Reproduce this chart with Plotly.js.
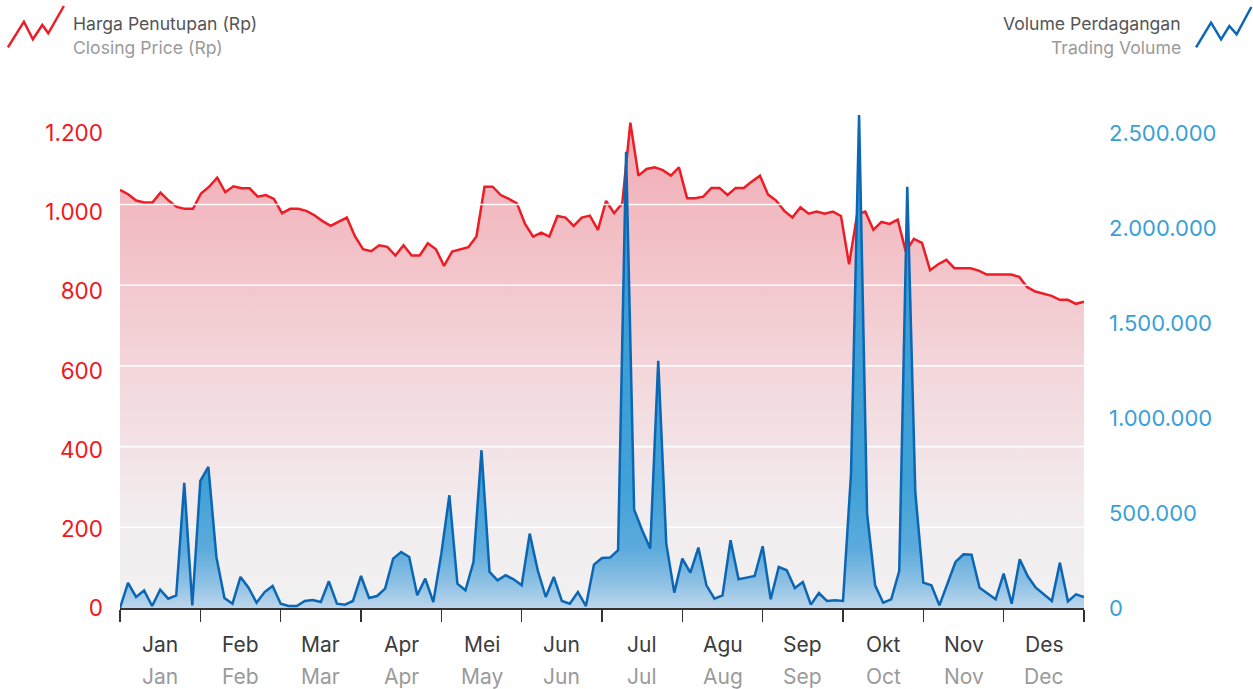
<!DOCTYPE html>
<html><head><meta charset="utf-8">
<script src="https://cdn.plot.ly/plotly-3.0.1.min.js"></script>
<style>html,body{margin:0;padding:0;background:#fff;} #chart{width:1253px;height:689px;}</style>
</head><body><div id="chart"></div>
<script>
// ---- data ----
const monthsId = ["Jan","Feb","Mar","Apr","Mei","Jun","Jul","Agu","Sep","Okt","Nov","Des"];
const monthsEn = ["Jan","Feb","Mar","Apr","May","Jun","Jul","Aug","Sep","Oct","Nov","Dec"];
const closingPrice = [
 1057,1046,1030,1025,1025,1050,1030,1014,1009,1009,
 1048,1065,1088,1051,1066,1061,1061,1040,1044,1034,
 998,1009,1009,1004,993,978,966,977,987,940,
 907,902,917,913,891,917,891,891,922,907,
 865,901,907,912,939,1065,1065,1044,1034,1023,
 971,939,949,939,991,987,966,987,992,956,
 1029,998,1023,1227,1093,1110,1114,1107,1093,1114,
 1036,1036,1040,1062,1062,1044,1062,1062,1078,1093,
 1045,1030,1004,987,1013,997,1002,997,1002,991,
 869,995,1002,956,976,971,982,901,933,923,
 854,869,880,859,859,859,853,843,843,843,
 843,837,811,800,795,789,779,779,769,774
];
const tradingVolume = [
 0,132000,58000,93000,10500,96600,49000,66800,658800,14000,
 669000,743000,268800,52700,22800,163400,107000,28000,84000,116000,
 22800,10500,10500,36900,42000,31600,140500,22800,17600,36900,
 168600,52700,63200,101900,260000,295000,268800,66800,154600,31600,
 286300,593800,128200,93100,242400,830900,189700,145800,172200,151100,
 119500,391700,198500,58000,163400,36900,22800,84300,10500,228400,
 263500,265300,303900,2403000,518200,409300,312700,1301700,339000,80800,
 260000,186200,318000,119500,49200,66800,356600,151100,159900,168600,
 325000,45700,216000,198500,105400,137000,17600,79000,36900,40400,
 36900,708000,2596000,497000,119500,28100,45700,195000,2218700,611300,
 133500,119500,14000,128200,242400,282800,281000,107200,75500,45700,
 181000,22800,256500,166900,107200,72000,36900,238900,35100,72000,
 58000
];
const priceTicks = [0,200,400,600,800,1000,1200];
const volumeTicks = [0,500000,1000000,1500000,2000000,2500000];
const legendTitles = {price:["Harga Penutupan (Rp)","Closing Price (Rp)"], volume:["Volume Perdagangan","Trading Volume"]};

// ---- layout geometry ----
const W=1253, H=689;
const M={l:119.5, r:168.5, t:108, b:81};
const PW=W-M.l-M.r, PH=H-M.t-M.b;
const px2x = p => (p-M.l)/PW;
const py2y = p => (H-M.b-p)/PH;
const priceMax = 1264, volumeMax = 2633000;
const gridStep = 204;

const nMonths = monthsId.length;
const xPrice = closingPrice.map((_,i)=> i*nMonths/(closingPrice.length-1));
const xVol = tradingVolume.map((_,i)=> i*nMonths/(tradingVolume.length-1));

const FONT = "Inter, Roboto, sans-serif";

const redTrace = {
  type:'scatter', mode:'lines', x:xPrice, y:closingPrice, xaxis:'x', yaxis:'y',
  line:{color:'#ee1c25', width:2.5}, fill:'tozeroy',
  fillgradient:{type:'vertical', start:0, stop:1227,
    colorscale:[[0,'#f1f1f1'],[0.2,'#f2ecee'],[0.5,'#f3d6da'],[0.8,'#f2bcc3'],[1,'#f1a9b3']]},
  hoverinfo:'skip', showlegend:false
};
// white grid lines drawn over the price fill, below the volume area
const gx=[], gy=[];
for(let k=1;k<=5;k++){ gx.push(0,nMonths,null); gy.push(k*gridStep,k*gridStep,null); }
const gridTrace = {type:'scatter', mode:'lines', x:gx, y:gy, xaxis:'x', yaxis:'y',
  line:{color:'rgba(255,255,255,0.95)', width:1.6}, hoverinfo:'skip', showlegend:false};
const blueTrace = {
  type:'scatter', mode:'lines', x:xVol, y:tradingVolume, xaxis:'x', yaxis:'y2',
  line:{color:'#0b66b3', width:2.5}, fill:'tozeroy',
  fillgradient:{type:'vertical', start:0, stop:2600000,
    colorscale:[[0,'#bdd6ec'],[0.05,'#8ec1e4'],[0.12,'#5cabdc'],[0.25,'#40a1d7'],[1,'#379cd5']]},
  hoverinfo:'skip', showlegend:false
};

const annotations = [];
monthsId.forEach((m,k)=>{
  annotations.push({xref:'x', yref:'paper', x:k+0.5, y:py2y(644), text:m, showarrow:false,
    xanchor:'center', yanchor:'middle', font:{family:FONT, size:21, color:'#3c3c3c'}});
  annotations.push({xref:'x', yref:'paper', x:k+0.5, y:py2y(676), text:monthsEn[k], showarrow:false,
    xanchor:'center', yanchor:'middle', font:{family:FONT, size:21, color:'#9a9a9a'}});
});
annotations.push({xref:'paper', yref:'paper', x:px2x(70), y:py2y(23), text:legendTitles.price[0], showarrow:false,
  xanchor:'left', yanchor:'middle', font:{family:FONT, size:17.6, color:'#555'}});
annotations.push({xref:'paper', yref:'paper', x:px2x(70), y:py2y(48), text:legendTitles.price[1], showarrow:false,
  xanchor:'left', yanchor:'middle', font:{family:FONT, size:17.6, color:'#9a9a9a'}});
annotations.push({xref:'paper', yref:'paper', x:px2x(1184), y:py2y(23), text:legendTitles.volume[0], showarrow:false,
  xanchor:'right', yanchor:'middle', font:{family:FONT, size:17.6, color:'#555'}});
annotations.push({xref:'paper', yref:'paper', x:px2x(1184), y:py2y(48), text:legendTitles.volume[1], showarrow:false,
  xanchor:'right', yanchor:'middle', font:{family:FONT, size:17.6, color:'#9a9a9a'}});

function iconPath(pts){ return pts.map((p,i)=>(i?'L':'M')+px2x(p[0]).toFixed(5)+','+py2y(p[1]).toFixed(5)).join(' '); }
const shapes = [
  {type:'path', xref:'paper', yref:'paper', path:iconPath([[7.3,47.3],[23.3,21.7],[32.3,39.3],[41.7,25],[47.7,33.3],[63.3,6]]),
    line:{color:'#ee1c25', width:2.5}},
  {type:'path', xref:'paper', yref:'paper', path:iconPath([[1196.7,47.3],[1211.7,22.7],[1221.7,39.3],[1230,26],[1237.3,34.3],[1252,7]]),
    line:{color:'#0b66b3', width:2.5}}
];

const layout = {
  width:W, height:H, margin:M, paper_bgcolor:'#fff', plot_bgcolor:'#fff',
  separators:',.', showlegend:false, font:{family:FONT},
  xaxis:{range:[0,nMonths], tickmode:'array', tickvals:monthsId.map((_,k)=>k).concat([nMonths]),
    ticktext:monthsId.map(()=> '').concat(['']), ticks:'outside', ticklen:12, tickwidth:1.5, tickcolor:'#333',
    showline:true, linecolor:'#333', linewidth:1.5, showgrid:false, zeroline:false, fixedrange:true},
  yaxis:{range:[0,priceMax], tickmode:'array', tickvals:priceTicks, tickformat:',d', showgrid:false, zeroline:false,
    showline:false, ticks:'', ticklabelstandoff:16, tickfont:{family:FONT, size:22.5, color:'#f2161c'}, fixedrange:true},
  yaxis2:{range:[0,volumeMax], overlaying:'y', side:'right', tickmode:'array', tickvals:volumeTicks, tickformat:',d',
    showgrid:false, zeroline:false, showline:false, ticks:'', ticklabelstandoff:24,
    tickfont:{family:FONT, size:22, color:'#3a9fd8'}, fixedrange:true},
  annotations, shapes
};
Plotly.newPlot('chart', [redTrace, gridTrace, blueTrace], layout, {displayModeBar:false, staticPlot:true});
</script></body></html>
